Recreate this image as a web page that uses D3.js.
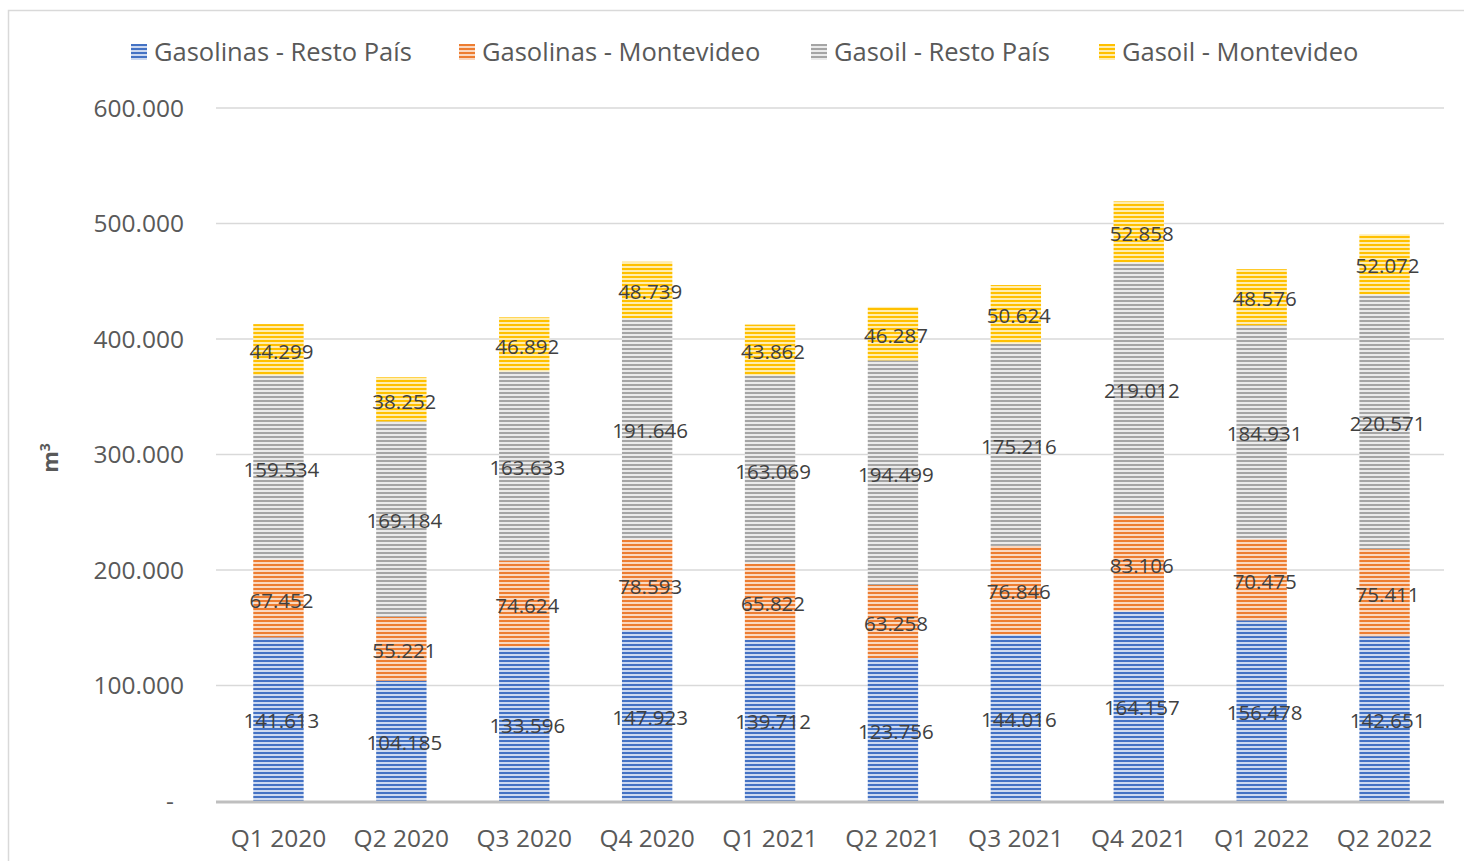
<!DOCTYPE html>
<html>
<head>
<meta charset="utf-8">
<script src="https://cdn.jsdelivr.net/npm/d3@7"></script>
<style>
  body { margin: 0; background: #fff; }
  svg { font-family: "Open Sans", "Noto Sans", sans-serif; }
</style>
</head>
<body>
<svg id="chart" width="1464" height="861"></svg>
<script>
// quarters and volumes (m3)
var quarters = ["Q1 2020", "Q2 2020", "Q3 2020", "Q4 2020", "Q1 2021", "Q2 2021", "Q3 2021", "Q4 2021", "Q1 2022", "Q2 2022"];
var gasolinasResto = [141613, 104185, 133596, 147923, 139712, 123756, 144016, 164157, 156478, 142651];
var gasolinasMvd   = [67452, 55221, 74624, 78593, 65822, 63258, 76846, 83106, 70475, 75411];
var gasoilResto    = [159534, 169184, 163633, 191646, 163069, 194499, 175216, 219012, 184931, 220571];
var gasoilMvd      = [44299, 38252, 46892, 48739, 43862, 46287, 50624, 52858, 48576, 52072];
var seriesNames = ["Gasolinas - Resto País", "Gasolinas - Montevideo", "Gasoil - Resto País", "Gasoil - Montevideo"];
var yTicks = [0, 100000, 200000, 300000, 400000, 500000, 600000];

var colors = [
  {dark: "#4472C4", light: "#cdd9f0"},
  {dark: "#ED7D31", light: "#fad8c0"},
  {dark: "#A5A5A5", light: "#ebebeb"},
  {dark: "#FFC000", light: "#ffedb0"}
];

var svg = d3.select("#chart");

// outer frame
svg.append("rect")
  .attr("x", 8.5).attr("y", 10.5)
  .attr("width", 1470).attr("height", 870)
  .attr("fill", "none").attr("stroke", "#d9d9d9").attr("stroke-width", 1.5);

// stripe patterns
var defs = svg.append("defs");
colors.forEach(function(c, i){
  var p = defs.append("pattern")
    .attr("id", "stripe" + i)
    .attr("patternUnits", "userSpaceOnUse")
    .attr("width", 8).attr("height", 4);
  p.append("rect").attr("width", 8).attr("height", 4).attr("fill", c.light);
  p.append("rect").attr("y", 0).attr("width", 8).attr("height", 2).attr("fill", c.dark);
});

var margin = {left: 217, right: 1446, top: 108, bottom: 801};

var x = d3.scaleBand()
  .domain(quarters)
  .range([margin.left, margin.right])
  .paddingInner(0.59)
  .paddingOuter(0.295);

var y = d3.scaleLinear()
  .domain([0, 600000])
  .range([margin.bottom, margin.top]);

var fmt = function(v){ return d3.format(",")(v).replace(/,/g, "."); };

// gridlines
svg.append("g")
  .selectAll("line")
  .data(yTicks.slice(1))
  .enter().append("line")
  .attr("x1", 216).attr("x2", 1444)
  .attr("y1", function(d){ return y(d); }).attr("y2", function(d){ return y(d); })
  .attr("stroke", "#d9d9d9").attr("stroke-width", 1.5);

// y tick labels
svg.append("g")
  .selectAll("text")
  .data(yTicks)
  .enter().append("text")
  .attr("x", function(d){ return d == 0 ? 170 : 184; })
  .attr("y", function(d){ return y(d); })
  .attr("dy", "0.35em")
  .attr("text-anchor", function(d){ return d == 0 ? "middle" : "end"; })
  .attr("fill", "#595959")
  .style("font-size", "24.5px")
  .text(function(d){ return d == 0 ? "-" : fmt(d); });

// y title
svg.append("text")
  .attr("transform", "translate(58,458) rotate(-90)")
  .attr("text-anchor", "middle")
  .attr("fill", "#595959")
  .style("font-size", "22px")
  .style("font-weight", "bold")
  .html('m<tspan dy="-8" style="font-size:14px">3</tspan>');

// stack
var rows = quarters.map(function(q, i){
  return {q: q, s0: gasolinasResto[i], s1: gasolinasMvd[i], s2: gasoilResto[i], s3: gasoilMvd[i]};
});
var stack = d3.stack().keys(["s0", "s1", "s2", "s3"])(rows);

var layers = svg.append("g")
  .selectAll("g")
  .data(stack)
  .enter().append("g")
  .attr("fill", function(d, i){ return "url(#stripe" + i + ")"; });

layers.selectAll("rect")
  .data(function(d){ return d; })
  .enter().append("rect")
  .attr("x", function(d){ return x(d.data.q); })
  .attr("width", x.bandwidth())
  .attr("y", function(d){ return y(d[1]); })
  .attr("height", function(d){ return y(d[0]) - y(d[1]); });

// baseline
svg.append("line")
  .attr("x1", 216).attr("x2", 1444)
  .attr("y1", y(0) + 1).attr("y2", y(0) + 1)
  .attr("stroke", "#bfbfbf").attr("stroke-width", 3);

// data labels
stack.forEach(function(layer){
  svg.append("g")
    .selectAll("text")
    .data(layer)
    .enter().append("text")
    .attr("x", function(d){ return x(d.data.q) + x.bandwidth() / 2 + 3; })
    .attr("y", function(d){ return (y(d[0]) + y(d[1])) / 2 + 2; })
    .attr("dy", "0.35em")
    .attr("text-anchor", "middle")
    .attr("fill", "#404040")
    .style("font-size", "20.5px")
    .text(function(d){ return fmt(d[1] - d[0]); });
});

// x labels
svg.append("g")
  .selectAll("text")
  .data(quarters)
  .enter().append("text")
  .attr("x", function(d){ return x(d) + x.bandwidth() / 2; })
  .attr("y", 838)
  .attr("dy", "0.35em")
  .attr("text-anchor", "middle")
  .attr("fill", "#595959")
  .style("font-size", "24.5px")
  .text(function(d){ return d; });

// legend
var legendX = [131, 459, 811, 1099];
var legend = svg.append("g")
  .selectAll("g")
  .data(seriesNames)
  .enter().append("g")
  .attr("transform", function(d, i){ return "translate(" + legendX[i] + ",52)"; });

legend.append("rect")
  .attr("x", 0).attr("y", -8)
  .attr("width", 16).attr("height", 16)
  .attr("fill", function(d, i){ return "url(#stripe" + i + ")"; });

legend.append("text")
  .attr("x", 23)
  .attr("dy", "0.35em")
  .attr("fill", "#595959")
  .style("font-size", "25.5px")
  .text(function(d){ return d; });
</script>
</body>
</html>
